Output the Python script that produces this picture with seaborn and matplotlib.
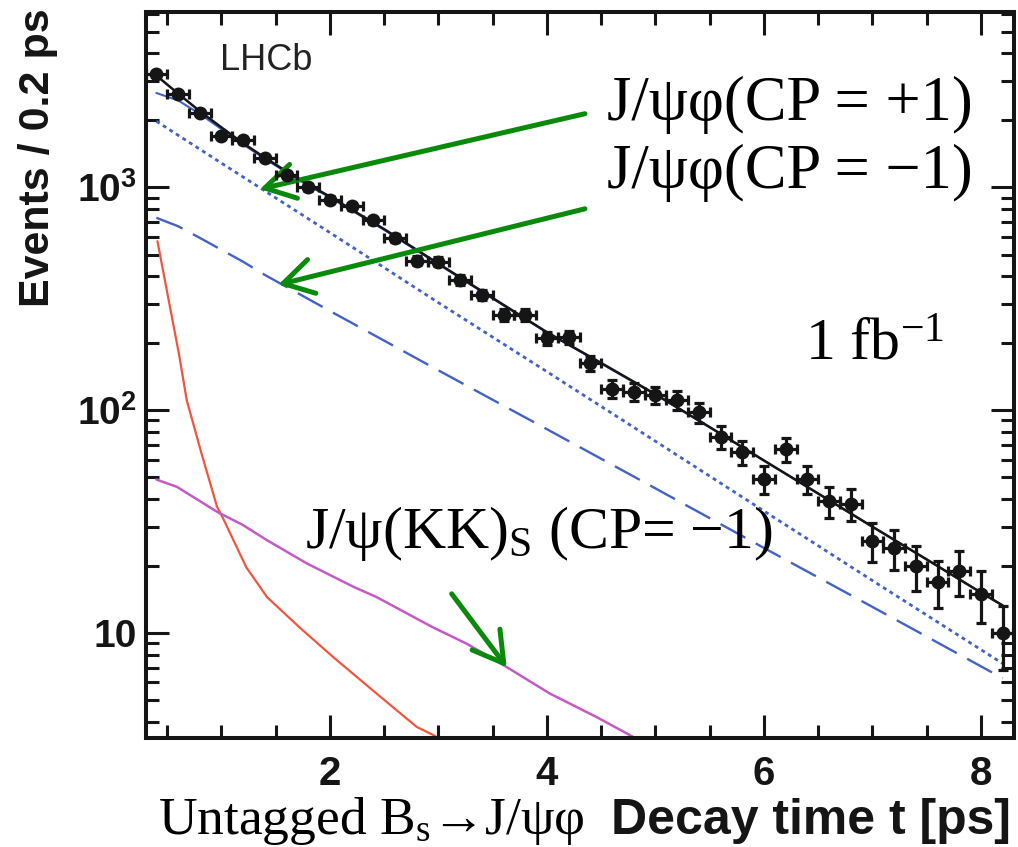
import matplotlib
matplotlib.use("Agg")
import matplotlib.pyplot as plt
import seaborn as sns
from matplotlib.ticker import FixedLocator, LogLocator, MultipleLocator, NullFormatter

# ------------------------------------------------------
# Binned data (events per 0.2 ps)
# ------------------------------------------------------
bin_centres = [0.4, 0.6, 0.8, 1.0, 1.2, 1.4, 1.6, 1.8, 2.0, 2.2,
               2.4, 2.6, 2.8, 3.0, 3.2, 3.4, 3.6, 3.8, 4.0, 4.2,
               4.4, 4.6, 4.8, 5.0, 5.2, 5.4, 5.6, 5.8, 6.0, 6.2,
               6.4, 6.6, 6.8, 7.0, 7.2, 7.4, 7.6, 7.8, 8.0, 8.2]
events = [3245, 2630, 2160, 1705, 1626, 1355, 1141, 1000, 881, 822,
          711, 593, 470, 465, 384, 329, 268, 268, 210, 213,
          163, 125, 121, 117, 111, 98, 76, 65, 49, 67,
          49, 39, 38, 26, 24, 20, 17, 19, 15, 10]
events_err = [57, 51, 46, 41, 40, 37, 34, 32, 30, 29,
              27, 24, 22, 22, 20, 18, 16, 16, 14.5, 14.6,
              12.8, 11.2, 11, 10.8, 10.5, 9.9, 8.7, 8.1, 7.0, 8.2,
              7.0, 6.2, 6.2, 5.1, 4.9, 4.5, 4.1, 4.4, 3.9, 3.2]
bin_half_width = 0.1

# ------------------------------------------------------
# Fit projections
# ------------------------------------------------------
t_total = [0.4, 0.6, 0.8, 1.0, 1.2, 1.4, 1.6, 1.8, 2.0, 2.5, 3.0,
           3.5, 4.0, 4.5, 5.0, 5.5, 6.0, 6.5, 7.0, 7.5, 8.0, 8.2]
total_fit = [3180, 2640, 2200, 1860, 1580, 1360, 1180, 1030, 910, 650, 455,
             319, 224, 163, 118, 84, 59.5, 42.3, 30, 21.4, 15.2, 13.3]
signal_fit = [2655, 2460, 2140, 1827, 1560, 1345, 1168, 1020, 902, 645, 452,
              317, 223, 162, 117.5, 83.8, 59.4, 42.2, 30, 21.4, 15.2, 13.3]

t_cp_even = [0.4, 1.0, 2.0, 3.0, 4.0, 5.0, 6.0, 7.0, 8.2]
cp_even = [1983, 1286, 627, 304, 149, 72.6, 35.3, 17.2, 7.3]

t_cp_odd = [0.4, 0.6, 0.8, 1.0, 1.2, 1.4, 2.0, 3.0, 4.0, 5.0, 6.0, 7.0, 8.2]
cp_odd = [731, 670, 594, 525, 464, 405, 279, 151, 82.2, 44.6, 24.1, 13.1, 6.27]

t_prompt = [0.41, 0.61, 0.68, 0.82, 0.96, 1.01, 1.23, 1.42, 1.72, 2.03,
            2.43, 2.8, 2.95, 3.2]
prompt_bkg = [574, 177, 111, 63, 36.8, 33.1, 19.7, 14.5, 10.6, 7.8,
              5.35, 3.79, 3.49, 3.0]

t_swave = [0.4, 0.59, 0.96, 1.2, 1.42, 1.79, 2.22, 2.43, 2.95, 3.26,
           3.63, 4.03, 4.46, 4.77, 5.0]
swave = [48.9, 45.3, 35.0, 30.5, 26.1, 20.5, 16.1, 14.5, 10.6, 8.96,
         7.03, 5.34, 4.19, 3.47, 3.0]

# ------------------------------------------------------
# Style
# ------------------------------------------------------
sns.set_theme(style="ticks")
plt.rcParams["font.family"] = ["Liberation Sans", "DejaVu Sans"]
plt.rcParams["mathtext.fontset"] = "custom"
plt.rcParams["mathtext.rm"] = "Liberation Serif"
plt.rcParams["mathtext.it"] = "Liberation Serif:italic"
plt.rcParams["mathtext.bf"] = "Liberation Sans:bold"

INK = "#151515"
BLUE = "#4262c4"
RED = "#f2553f"
MAGENTA = "#c45ac4"
GREEN = "#0a8a0a"
SERIF = ["Liberation Serif", "DejaVu Serif"]

W, H = 1018, 847
fig = plt.figure(figsize=(W / 100, H / 100), dpi=100)
ax = fig.add_axes([145.5 / W, 1 - 738 / H, (1013.5 - 145.5) / W, (738 - 11.7) / H])
ax.set_yscale("log")


def px(x, y):
    return x / W, 1 - y / H


# ------------------------------------------------------
# Curves
# ------------------------------------------------------
sns.lineplot(x=t_prompt, y=prompt_bkg, ax=ax, color=RED, lw=1.6, errorbar=None)
sns.lineplot(x=t_swave, y=swave, ax=ax, color=MAGENTA, lw=1.8, errorbar=None)
sns.lineplot(x=t_cp_odd, y=cp_odd, ax=ax, color=BLUE, lw=1.7,
             linestyle=(0, (12, 5)), errorbar=None)
sns.lineplot(x=t_cp_even, y=cp_even, ax=ax, color=BLUE, lw=2.0,
             linestyle=(0, (1.4, 1.4)), errorbar=None)
sns.lineplot(x=t_total, y=signal_fit, ax=ax, color=BLUE, lw=1.5, errorbar=None)
sns.lineplot(x=t_total, y=total_fit, ax=ax, color=INK, lw=1.8, errorbar=None)

ax.errorbar(bin_centres, events, yerr=events_err, xerr=bin_half_width,
            fmt="o", ms=9, color=INK, elinewidth=2.3, capsize=3.5,
            capthick=2.3, zorder=5)

# ------------------------------------------------------
# Axes
# ------------------------------------------------------
ax.set_xlim(0.3, 8.3)
ax.set_ylim(3.38, 6150)

ax.xaxis.set_major_locator(FixedLocator([2, 4, 6, 8]))
ax.xaxis.set_minor_locator(MultipleLocator(0.5))
ax.set_xticklabels(["2", "4", "6", "8"], fontsize=29, fontweight="bold")

ax.yaxis.set_major_locator(FixedLocator([10, 100, 1000]))
ax.yaxis.set_minor_locator(LogLocator(base=10, subs=[2, 3, 4, 5, 6, 7, 8, 9]))
ax.yaxis.set_minor_formatter(NullFormatter())
ax.set_yticklabels(["10", r"$\mathbf{10^{2}}$", r"$\mathbf{10^{3}}$"],
                   fontsize=28, fontweight="bold")

ax.tick_params(which="both", direction="in", top=True, right=True,
               width=2.2, color=INK, labelcolor=INK)
ax.tick_params(which="major", length=16.5)
ax.tick_params(which="minor", length=9.5)
ax.tick_params(axis="x", pad=12)
ax.tick_params(axis="y", pad=6)

for spine in ax.spines.values():
    spine.set_linewidth(2.9)
    spine.set_color(INK)

ax.set_xlabel("")
ax.set_ylabel("")

# ------------------------------------------------------
# Labels and annotations
# ------------------------------------------------------
fig.text(*px(38, 8), "Events / 0.2 ps", rotation=90, ha="center", va="top",
         fontsize=31, fontweight="bold", color=INK)
fig.text(*px(1011, 834), "Decay time t [ps]", ha="right", va="baseline",
         fontsize=36, fontweight="bold", color=INK)
fig.text(*px(158, 834), r"Untagged B$_\mathrm{s}$→J/ψφ",
         ha="left", va="baseline", fontsize=38.5, family=SERIF, color="black")

fig.text(*px(220, 70), "LHCb", ha="left", va="baseline", fontsize=26,
         color="#222222")

fig.text(*px(607, 120), "J/ψφ(CP = +1)", ha="left", va="baseline",
         fontsize=45, family=SERIF, color="black")
fig.text(*px(607, 188), "J/ψφ(CP = −1)", ha="left", va="baseline",
         fontsize=45, family=SERIF, color="black")
fig.text(*px(805, 360), r"1 fb$^{-1}$", ha="left", va="baseline",
         fontsize=43, family=SERIF, color="black")
fig.text(*px(305, 548), r"J/ψ(KK)$_\mathrm{S}$ (CP= −1)", ha="left",
         va="baseline", fontsize=43, family=SERIF, color="black")

arrow_kw = dict(arrowstyle="->,head_length=0.85,head_width=0.5", color=GREEN,
                lw=3.6, mutation_scale=25, shrinkA=0, shrinkB=0)
ax.annotate("", xy=(1.355, 983), xytext=(4.35, 2143), arrowprops=arrow_kw)
ax.annotate("", xy=(1.524, 366), xytext=(4.35, 802), arrowprops=arrow_kw)
ax.annotate("", xy=(3.629, 7.03), xytext=(3.122, 15.0), arrowprops=arrow_kw)

fig.savefig("out.png", dpi=100)
plt.close(fig)
